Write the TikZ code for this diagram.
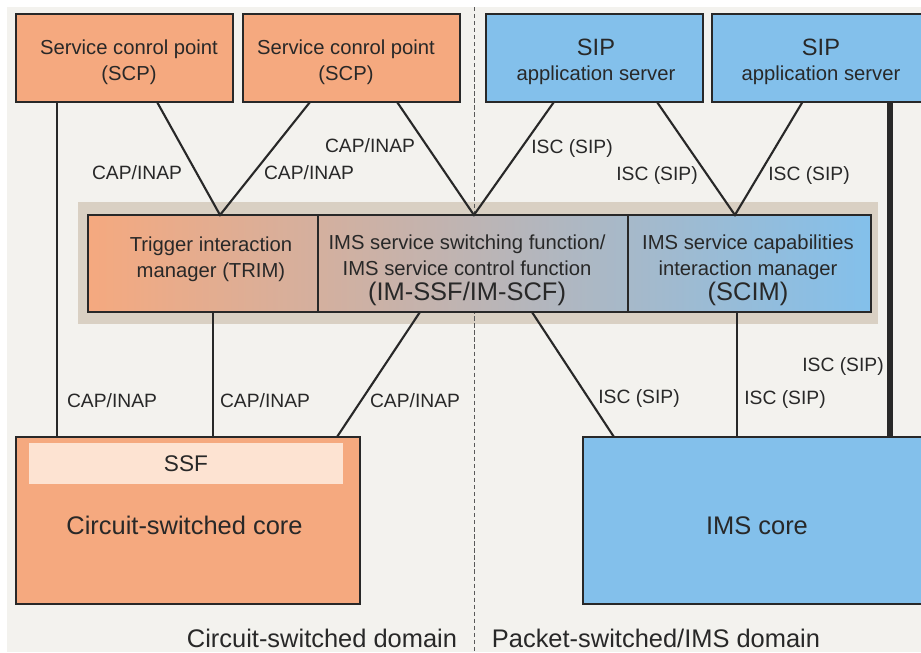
\documentclass[tikz,border=0pt]{standalone}
\usepackage{fontspec}
\setmainfont{Liberation Sans}
\usetikzlibrary{calc}

\definecolor{scporange}{RGB}{245,169,127}
\definecolor{sipblue}{RGB}{131,192,235}
\definecolor{bggrey}{RGB}{243,242,238}
\definecolor{bandtan}{RGB}{217,208,195}
\definecolor{ssflight}{RGB}{253,227,210}
\definecolor{inkdark}{RGB}{40,40,40}

\newcommand{\lblsize}{\fontsize{13.7}{16}\selectfont}
\newcommand{\boxsize}{\fontsize{14.4}{18.5}\selectfont}
\newcommand{\sipsize}{\fontsize{16.8}{18.5}\selectfont}
\newcommand{\bigsize}{\fontsize{18.1}{21}\selectfont}
\newcommand{\ssfsize}{\fontsize{16.1}{19}\selectfont}

\tikzset{
  pxbox/.style 2 args={minimum width=#1*0.025cm, minimum height=#2*0.025cm,
    inner sep=0pt, outer sep=0pt, anchor=north west},
  unit/.style={draw=inkdark, line width=1.5pt},
  csunit/.style={unit, fill=scporange},
  psunit/.style={unit, fill=sipblue},
  boxtxt/.style={text=inkdark, align=center, font=\boxsize, inner sep=0pt},
  link/.style={draw=inkdark, line width=1.5pt},
  lbl/.style={text=inkdark, font=\lblsize, inner sep=0pt},
}

\begin{document}
\begin{tikzpicture}[x=0.025cm, y=-0.025cm]
    \useasboundingbox (0,0) rectangle (921,652);
    \clip (0,0) rectangle (921,652);

    % Background, band and domain border
    \fill[bggrey] (7,7) rectangle (921,652);
    \fill[bandtan] (78,202) rectangle (878,324);
    \draw[gray!70!black, line width=0.6pt, dash pattern=on 3pt off 2pt] (474,7) -- (474,652);

    % Servers on top
    \node[csunit, pxbox={217}{88}] (scp1) at (16,14) {};
    \node[csunit, pxbox={217}{88}] (scp2) at (243,14) {};
    \node[psunit, pxbox={217}{88}] (sip1) at (486,14) {};
    \node[psunit, pxbox={218}{88}] (sip2) at (712,14) {};
    \node[boxtxt] (scp1-txt) at ($(scp1.center)+(4.5,4)$) {Service conrol point\\(SCP)};
    \node[boxtxt] (scp2-txt) at ($(scp2.center)+(-5.5,4)$) {Service conrol point\\(SCP)};
    \node[boxtxt] (sip1-txt) at ($(sip1.center)+(1.5,4)$) {{\sipsize SIP}\\[-1pt]application server};
    \node[boxtxt] (sip2-txt) at ($(sip2.center)+(0,4)$) {{\sipsize SIP}\\[-1pt]application server};

    % Interworking functions
    \node[unit, pxbox={230}{97}, left color=scporange, right color=sipblue!29!scporange] (trim) at (88,215) {};
    \node[unit, pxbox={310}{97}, left color=sipblue!29!scporange, right color=sipblue!69!scporange] (imssf) at (318,215) {};
    \node[unit, pxbox={243}{97}, left color=sipblue!69!scporange, right color=sipblue] (scim) at (628,215) {};
    \node[boxtxt] (trim-txt) at ($(trim.center)+(8,-4.5)$) {Trigger interaction\\manager (TRIM)};
    \node[boxtxt] (imssf-txt) at ($(imssf.center)+(-6,7)$)
      {IMS service switching function/\\IMS service control function\\[-1pt]{\bigsize (IM-SSF/IM-SCF)}};
    \node[boxtxt] (scim-txt) at ($(scim.center)+(-1.5,7)$)
      {IMS service capabilities\\interaction manager\\[-1pt]{\bigsize (SCIM)}};

    % Cores
    \node[csunit, pxbox={344}{167}] (csc) at (16,437) {};
    \node[fill=ssflight, pxbox={314}{41}, font=\ssfsize, text=inkdark] (ssf) at (29,443) {SSF};
    \node[psunit, pxbox={348}{167}] (imsc) at (583,437) {};
    \node[boxtxt, font=\bigsize] (csc-txt) at ($(csc.center)+(-3.5,5)$) {Circuit-switched core};
    \node[boxtxt, font=\bigsize] (imsc-txt) at ($(imsc.center)+(0,5)$) {IMS core};

    % Links
    \draw[link] ($(scp1.south west)!0.189!(scp1.south east)$) coordinate (scpdown) -- (scpdown |- csc.north);
    \draw[link] ($(scp1.south west)!0.65!(scp1.south east)$) -- ($(trim.north west)!0.574!(trim.north east)$)
      -- ($(scp2.south west)!0.309!(scp2.south east)$);
    \draw[link] ($(scp2.south west)!0.71!(scp2.south east)$) -- ($(imssf.north west)!0.503!(imssf.north east)$)
      -- ($(sip1.south west)!0.313!(sip1.south east)$);
    \draw[link] ($(sip1.south west)!0.788!(sip1.south east)$) -- ($(scim.north west)!0.44!(scim.north east)$)
      -- ($(sip2.south west)!0.415!(sip2.south east)$);
    \draw[link, line width=4.2pt] ($(sip2.south west)!0.817!(sip2.south east)$) coordinate (sipdown) -- (sipdown |- imsc.north);
    \draw[link] ($(trim.south west)!0.543!(trim.south east)$) coordinate (trimdown) -- (trimdown |- csc.north);
    \draw[link] ($(imssf.south west)!0.329!(imssf.south east)$) -- ($(csc.north west)!0.933!(csc.north east)$);
    \draw[link] ($(imssf.south west)!0.69!(imssf.south east)$) -- ($(imsc.north west)!0.089!(imsc.north east)$);
    \draw[link] ($(scim.south west)!0.449!(scim.south east)$) coordinate (scimdown) -- (scimdown |- imsc.north);

    % Protocol labels
    \foreach \x/\y in {137/173, 309/173, 370/146, 112/401, 265/401, 415/401}
      \node[lbl] (cap-\x) at (\x,\y) {CAP/INAP};
    \foreach \x/\y in {572/149, 657/176, 809/176, 639/399, 785/400, 843/367}
      \node[lbl] (isc-\x) at (\x,\y) {ISC (SIP)};

    % Domains
    \node[lbl, font=\bigsize] (csdomain) at (322,638) {Circuit-switched domain};
    \node[lbl, font=\bigsize] (psdomain) at (656,638) {Packet-switched/IMS domain};
\end{tikzpicture}
\end{document}
